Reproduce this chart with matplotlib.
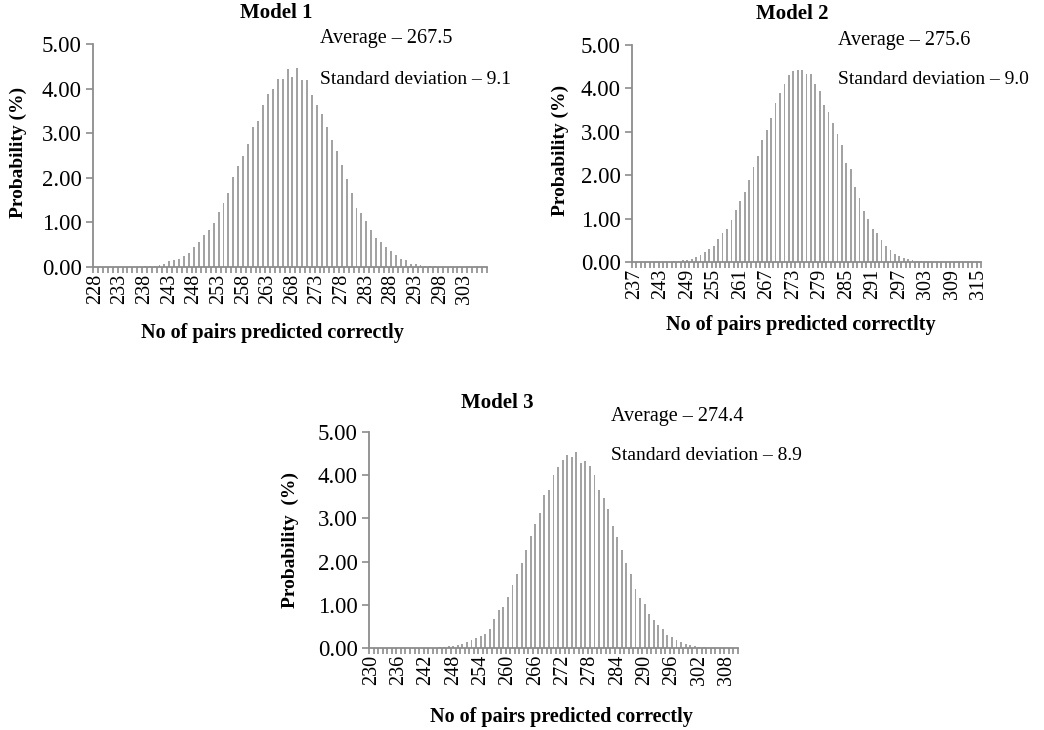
import numpy as np
import matplotlib.pyplot as plt

W, H = 1044, 730

# Model 1: number of correct pairs 228..307, probability (%)
m1_first = 228
m1_prob = [0, 0, 0, 0, 0, 0, 0, 0, 0.01, 0.01, 0.02, 0.02,
           0.03, 0.05, 0.07, 0.13, 0.15, 0.18, 0.25, 0.31, 0.44, 0.55,
           0.72, 0.84, 0.99, 1.24, 1.44, 1.66, 2.01, 2.26, 2.48, 2.75,
           3.13, 3.28, 3.64, 3.87, 3.98, 4.21, 4.21, 4.44, 4.27, 4.46,
           4.19, 4.20, 3.85, 3.64, 3.42, 3.13, 2.84, 2.61, 2.29, 1.98,
           1.66, 1.33, 1.20, 1.04, 0.83, 0.64, 0.56, 0.44, 0.35, 0.26,
           0.18, 0.15, 0.07, 0.06, 0.04, 0.03, 0.02, 0.02, 0.01, 0.01,
           0.01, 0.005, 0, 0, 0, 0, 0, 0]

# Model 2: 237..315
m2_first = 237
m2_prob = [0, 0, 0, 0, 0, 0, 0.005, 0.01, 0.01, 0.015,
           0.02, 0.04, 0.05, 0.08, 0.11, 0.17, 0.23, 0.30, 0.38, 0.52,
           0.66, 0.77, 0.96, 1.19, 1.40, 1.61, 1.89, 2.20, 2.44, 2.80,
           3.05, 3.32, 3.66, 3.90, 4.11, 4.30, 4.41, 4.42, 4.43, 4.33,
           4.33, 4.09, 3.95, 3.62, 3.45, 3.20, 2.95, 2.69, 2.27, 2.14,
           1.73, 1.48, 1.17, 0.98, 0.77, 0.66, 0.51, 0.38, 0.27, 0.19,
           0.14, 0.10, 0.06, 0.04, 0.02, 0.015, 0.01, 0.01, 0.005, 0.005,
           0, 0, 0, 0, 0, 0, 0, 0, 0]

# Model 3: 230..310
m3_first = 230
m3_prob = [0, 0, 0, 0, 0, 0, 0, 0, 0, 0,
           0.005, 0.005, 0.01, 0.01, 0.01, 0.015, 0.02, 0.04, 0.05, 0.08,
           0.10, 0.14, 0.18, 0.22, 0.27, 0.33, 0.43, 0.68, 0.87, 0.95,
           1.18, 1.45, 1.72, 1.96, 2.27, 2.60, 2.86, 3.13, 3.55, 3.66,
           4.00, 4.19, 4.36, 4.46, 4.43, 4.53, 4.29, 4.34, 4.22, 4.00,
           3.66, 3.48, 3.22, 2.83, 2.56, 2.27, 1.96, 1.71, 1.37, 1.16,
           1.03, 0.78, 0.64, 0.53, 0.43, 0.31, 0.25, 0.18, 0.13, 0.10,
           0.07, 0.05, 0.03, 0.02, 0.01, 0.01, 0.01, 0.005, 0, 0, 0]

titles = ["Model 1", "Model 2", "Model 3"]
averages = ["267.5", "275.6", "274.4"]
std_devs = ["9.1", "9.0", "8.9"]
xlabels = ["No of pairs predicted correctly",
           "No of pairs predicted correctlty",
           "No of pairs predicted correctly"]
ylabels = ["Probability (%)", "Probability (%)", "Probability  (%)"]
label_step = [5, 6, 6]

plt.rcParams['font.family'] = ['Liberation Serif', 'DejaVu Serif']
BAR = '#a3a3a3'
AXIS = '#8c8c8c'

fig = plt.figure(figsize=(W / 100, H / 100), dpi=100)


def px(x, y):
    return x / W, 1 - y / H


def box(left, top, right, bottom):
    return [left / W, 1 - bottom / H, (right - left) / W, (bottom - top) / H]


# axes boxes in pixels: left, top(5.00), right, bottom(0.00)
boxes = [box(93, 44, 487, 267), box(632, 45, 981, 262), box(369, 432, 738, 648)]
# text positions in pixels
title_pos = [(276, 13), (792, 14), (497, 403)]
avg_pos = [(320, 38), (838, 40), (611, 416)]
std_pos = [(320, 79), (838, 80), (611, 455)]
xlab_pos = [(272, 333), (801, 325), (561, 717)]
ylab_pos = [(18, 152), (560, 150), (290, 540)]

series = [(m1_first, m1_prob), (m2_first, m2_prob), (m3_first, m3_prob)]

for k, (first, prob) in enumerate(series):
    ax = fig.add_axes(boxes[k])
    n = len(prob)
    cats = np.arange(first, first + n)
    pos = np.arange(n)
    ax.bar(pos, prob, width=0.4, color=BAR, linewidth=0)
    ax.set_xlim(-0.5, n - 0.5)
    ax.set_ylim(0, 5)
    ax.set_yticks([0, 1, 2, 3, 4, 5])
    ax.set_yticklabels([f"{v:.2f}" for v in range(6)], fontsize=16.5)
    major = pos[::label_step[k]]
    ax.set_xticks(major)
    ax.set_xticklabels([str(c) for c in cats[::label_step[k]]],
                       rotation=90, fontsize=14.5)
    ax.set_xticks(np.arange(-0.5, n, 1), minor=True)
    ax.tick_params(axis='x', which='major', length=0, pad=5)
    ax.tick_params(axis='x', which='minor', length=4, width=1.2,
                   color=AXIS, direction='out')
    ax.tick_params(axis='y', length=5, width=1.2, color=AXIS,
                   direction='out', pad=3)
    for s in ['top', 'right']:
        ax.spines[s].set_visible(False)
    for s in ['left', 'bottom']:
        ax.spines[s].set_color(AXIS)
        ax.spines[s].set_linewidth(1.3)

    fig.text(*px(*title_pos[k]), titles[k], fontsize=15, fontweight='bold',
             ha='center', va='center')
    fig.text(*px(*avg_pos[k]), f"Average \u2013 {averages[k]}", fontsize=14.5,
             ha='left', va='center')
    fig.text(*px(*std_pos[k]), f"Standard deviation \u2013 {std_devs[k]}",
             fontsize=14, ha='left', va='center')
    fig.text(*px(*xlab_pos[k]), xlabels[k], fontsize=14.5, fontweight='bold',
             ha='center', va='center')
    fig.text(*px(*ylab_pos[k]), ylabels[k], fontsize=14, fontweight='bold',
             ha='center', va='center', rotation=90)

fig.savefig("out.png", dpi=100)
